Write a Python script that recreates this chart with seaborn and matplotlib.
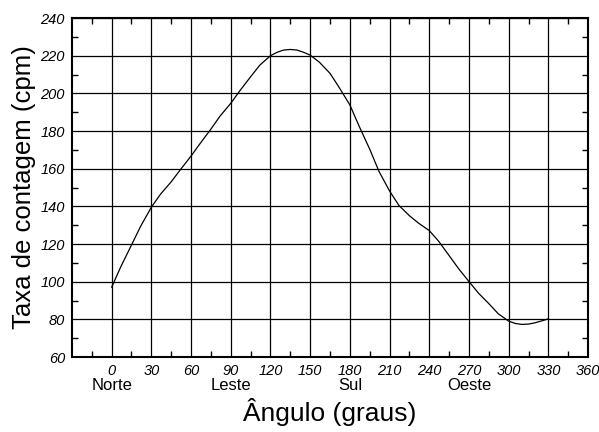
import numpy as np
import matplotlib
matplotlib.use("Agg")
import matplotlib.pyplot as plt
import seaborn as sns
import pandas as pd

# leitura aproximada da curva (graus, cpm)
angulo = [0, 7, 14, 22, 30, 37, 45, 52, 60, 67, 75, 82, 90, 97, 105, 112,
          120, 125, 130, 135, 140, 145, 150, 157, 165, 172, 180, 187, 195,
          202, 210, 217, 225, 232, 240, 247, 255, 262, 270, 277, 285, 292,
          300, 305, 310, 315, 320, 325, 330]
taxa = [97, 108, 118, 129.5, 139.5, 146.5, 153, 159.5, 166.7, 173.5, 181, 188,
        194.7, 201.5, 208.8, 215, 220, 221.8, 223, 223.3, 223, 221.8, 220.3,
        216.5, 210.6, 203, 193.8, 182.5, 170.3, 158.5, 148.1, 140.5, 135,
        131, 127.1, 121.5, 113.8, 107, 100, 94, 88.3, 83, 79, 77.8, 77.3,
        77.5, 78.2, 79.2, 80.3]

x_ticks = [0, 30, 60, 90, 120, 150, 180, 210, 240, 270, 300, 330, 360]
y_ticks = [60, 80, 100, 120, 140, 160, 180, 200, 220, 240]
direcoes = ["Norte", "Leste", "Sul", "Oeste"]
direcao_pos = [0, 90, 180, 270]

sns.set_style("ticks")
plt.rcParams['font.family'] = ['Liberation Sans', 'DejaVu Sans']
plt.rcParams['text.color'] = 'black'
plt.rcParams['axes.labelcolor'] = 'black'
plt.rcParams['xtick.color'] = 'black'
plt.rcParams['ytick.color'] = 'black'

df = pd.DataFrame({"angulo": angulo, "taxa": taxa})

fig = plt.figure(figsize=(5.99, 4.32), dpi=100)
ax = fig.add_axes([0.120, 0.1736, 0.862, 0.7847])

sns.lineplot(data=df, x="angulo", y="taxa", sort=False, color="black", lw=0.9, ax=ax)

ax.set_xlim(-30, 360)
ax.set_ylim(60, 240)
ax.set_xticks(x_ticks)
ax.set_yticks(y_ticks)
ax.set_xticks(np.arange(-15, 360, 15), minor=True)
ax.set_yticks(np.arange(70, 240, 10), minor=True)
ax.tick_params(which="both", direction="in", top=True, right=True)
ax.tick_params(which="major", length=0, pad=5)
ax.tick_params(which="minor", length=4, width=1)
ax.set_xticklabels([str(v) for v in x_ticks], fontsize=10.5, style="italic")
ax.set_yticklabels([str(v) for v in y_ticks], fontsize=10.5, style="italic")
ax.grid(True, which="major", color="black", lw=0.9)
for s in ax.spines.values():
    s.set_linewidth(1.5)
    s.set_color("black")

for pos, nome in zip(direcao_pos, direcoes):
    ax.text(pos, -0.062, nome, transform=ax.get_xaxis_transform(),
            ha="center", va="top", fontsize=12, color="black")

ax.set_xlabel("Ângulo (graus)", fontsize=19)
ax.set_ylabel("Taxa de contagem (cpm)", fontsize=18.5)
ax.xaxis.set_label_coords(0.5, -0.12)
ax.yaxis.set_label_coords(-0.07, 0.5)

fig.savefig("out.png", dpi=100)
